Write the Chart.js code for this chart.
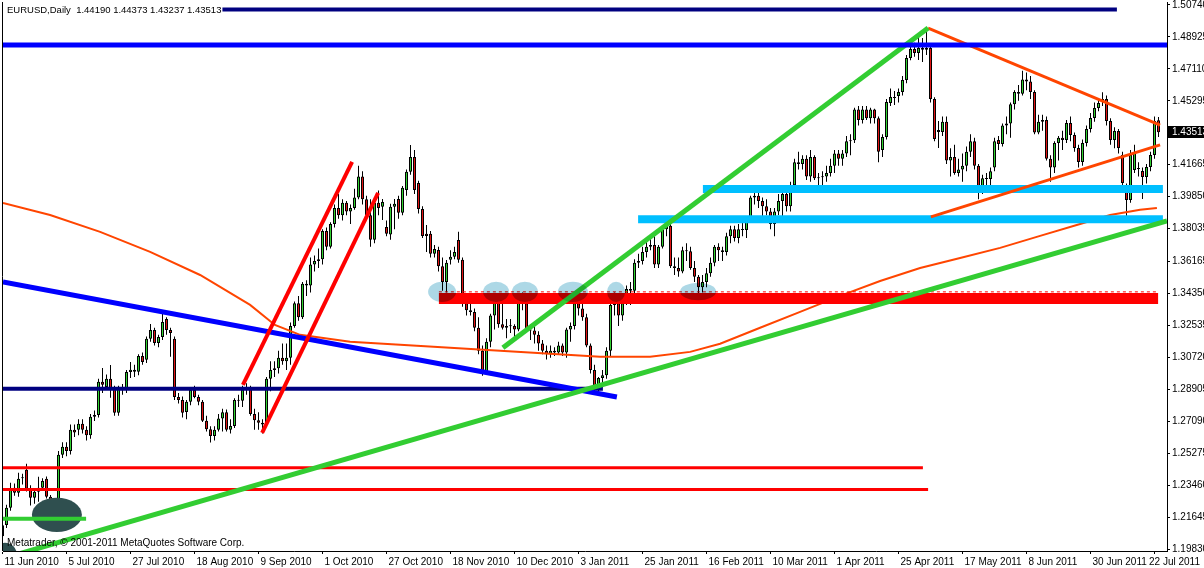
<!DOCTYPE html>
<html>
<head>
<meta charset="utf-8">
<script src="https://cdn.jsdelivr.net/npm/chart.js@4.4.1/dist/chart.umd.min.js"></script>
<style>
html,body{margin:0;padding:0;background:#ffffff;overflow:hidden;}
#wrap{width:1204px;height:568px;position:relative;}
canvas{display:block;}
</style>
</head>
<body>
<div id="wrap"><canvas id="c" width="1204" height="568"></canvas></div>
<script>
// ---------------- DATA ----------------
const dateLabels = ['11 Jun 2010','5 Jul 2010','27 Jul 2010','18 Aug 2010','9 Sep 2010','1 Oct 2010','27 Oct 2010','18 Nov 2010','10 Dec 2010','3 Jan 2011','25 Jan 2011','16 Feb 2011','10 Mar 2011','1 Apr 2011','25 Apr 2011','17 May 2011','8 Jun 2011','30 Jun 2011','22 Jul 2011'];
const barsPerLabel = 16;
const yTickValues = [1.50740,1.48925,1.47110,1.45295,1.41665,1.39850,1.38035,1.36165,1.34350,1.32535,1.30720,1.28905,1.27090,1.25275,1.23460,1.21645,1.19830];
const titleText = 'EURUSD,Daily  1.44190 1.44373 1.43237 1.43513';
const copyrightText = 'Metatrader, \u00A9 2001-2011 MetaQuotes Software Corp.';

const opens = [
1.2055,1.2120,1.2217,1.2331,1.2302,1.2385,1.2433,1.2325,1.2274,1.2308,
1.2331,1.2382,1.2280,1.2194,1.2220,1.2518,1.2564,1.2540,1.2660,1.2660,
1.2694,1.2660,1.2630,1.2734,1.2745,1.2933,1.2904,1.2950,1.2893,1.2757,
1.2893,1.2887,1.2989,1.3001,1.2990,1.3080,1.3058,1.3177,1.3228,1.3154,
1.3188,1.3290,1.3228,1.3177,1.2847,1.2830,1.2762,1.2819,1.2887,1.2847,
1.2819,1.2712,1.2664,1.2625,1.2660,1.2725,1.2760,1.2660,1.2682,1.2830,
1.2825,1.2890,1.2900,1.2750,1.2715,1.2700,1.2690,1.2950,1.3000,1.3010,
1.3070,1.3050,1.3070,1.3250,1.3380,1.3300,1.3490,1.3480,1.3600,1.3620,
1.3630,1.3790,1.3700,1.3830,1.3920,1.3880,1.3950,1.3900,1.3920,1.3980,
1.4100,1.3970,1.3880,1.3740,1.3950,1.3927,1.3813,1.3770,1.3927,1.3972,
1.3893,1.4023,1.4126,1.4211,1.4063,1.3915,1.3774,1.3774,1.3660,1.3682,
1.3590,1.3500,1.3626,1.3643,1.3739,1.3626,1.3380,1.3340,1.3330,1.3240,
1.3110,1.2990,1.3160,1.3310,1.3400,1.3260,1.3240,1.3250,1.3250,1.3230,
1.3390,1.3380,1.3230,1.3225,1.3200,1.3150,1.3110,1.3090,1.3110,1.3100,
1.3140,1.3100,1.3230,1.3250,1.3380,1.3350,1.3300,1.3140,1.3000,1.2910,
1.2955,1.2970,1.3110,1.3370,1.3380,1.3310,1.3380,1.3460,1.3450,1.3610,
1.3620,1.3670,1.3700,1.3710,1.3600,1.3700,1.3800,1.3820,1.3590,1.3580,
1.3560,1.3680,1.3675,1.3580,1.3530,1.3470,1.3500,1.3550,1.3610,1.3700,
1.3680,1.3670,1.3760,1.3800,1.3750,1.3800,1.3795,1.3860,1.3980,1.3990,
1.3960,1.3930,1.3900,1.3830,1.3900,1.3960,1.4000,1.3930,1.4050,1.4180,
1.4170,1.4200,1.4100,1.4210,1.4090,1.4095,1.4100,1.4120,1.4160,1.4230,
1.4200,1.4230,1.4300,1.4305,1.4480,1.4420,1.4480,1.4430,1.4480,1.4430,
1.4250,1.4324,1.4517,1.4551,1.4557,1.4580,1.4648,1.4773,1.4824,1.4801,
1.4830,1.4820,1.4830,1.4540,1.4353,1.4353,1.4410,1.4190,1.4210,1.4120,
1.4140,1.4160,1.4240,1.4300,1.4160,1.4020,1.4090,1.4085,1.4150,1.4307,
1.4284,1.4390,1.4400,1.4510,1.4580,1.4570,1.4650,1.4640,1.4580,1.4350,
1.4410,1.4420,1.4200,1.4150,1.4290,1.4320,1.4307,1.4404,1.4335,1.4262,
1.4182,1.4290,1.4370,1.4432,1.4489,1.4523,1.4540,1.4415,1.4307,1.4358,
1.4222,1.4040,1.3966,1.4137,1.4148,1.4131,1.4097,1.4154,1.4222,1.44190
];
const highs = [
1.2140,1.2235,1.2359,1.2355,1.2416,1.2410,1.2467,1.2345,1.2315,1.2393,
1.2385,1.2395,1.2290,1.2250,1.2540,1.2590,1.2590,1.2690,1.2690,1.2720,
1.2720,1.2680,1.2750,1.2770,1.2950,1.3012,1.2975,1.3029,1.2910,1.2910,
1.2920,1.3000,1.3046,1.3030,1.3090,1.3100,1.3190,1.3262,1.3240,1.3200,
1.3333,1.3300,1.3240,1.3190,1.2870,1.2850,1.2830,1.2900,1.2910,1.2860,
1.2830,1.2740,1.2680,1.2680,1.2750,1.2780,1.2775,1.2720,1.2840,1.2860,
1.2910,1.2925,1.2910,1.2780,1.2760,1.2720,1.2960,1.3050,1.3050,1.3110,
1.3150,1.3150,1.3270,1.3390,1.3420,1.3500,1.3510,1.3640,1.3650,1.3690,
1.3800,1.3810,1.3840,1.3940,1.4000,1.3970,1.3960,1.3940,1.4030,1.4160,
1.4130,1.3990,1.3970,1.3980,1.4020,1.3972,1.3850,1.3945,1.3972,1.3990,
1.4045,1.4140,1.4279,1.4250,1.4075,1.3930,1.3824,1.3790,1.3710,1.3700,
1.3640,1.3625,1.3680,1.3700,1.3785,1.3640,1.3420,1.3380,1.3350,1.3300,
1.3140,1.3180,1.3320,1.3430,1.3420,1.3390,1.3290,1.3290,1.3260,1.3410,
1.3440,1.3390,1.3260,1.3250,1.3220,1.3170,1.3140,1.3140,1.3130,1.3160,
1.3150,1.3240,1.3270,1.3400,1.3440,1.3390,1.3320,1.3150,1.3030,1.2960,
1.3000,1.3130,1.3380,1.3440,1.3390,1.3420,1.3480,1.3500,1.3630,1.3660,
1.3700,1.3740,1.3760,1.3760,1.3710,1.3820,1.3860,1.3830,1.3640,1.3640,
1.3700,1.3720,1.3700,1.3620,1.3540,1.3540,1.3580,1.3640,1.3710,1.3720,
1.3700,1.3780,1.3820,1.3820,1.3830,1.3860,1.3870,1.3990,1.4030,1.4030,
1.3980,1.3970,1.3920,1.3920,1.4000,1.4020,1.4010,1.4070,1.4200,1.4240,
1.4220,1.4220,1.4250,1.4220,1.4120,1.4130,1.4160,1.4200,1.4250,1.4250,
1.4250,1.4330,1.4340,1.4490,1.4500,1.4500,1.4500,1.4490,1.4485,1.4440,
1.4340,1.4540,1.4600,1.4585,1.4600,1.4670,1.4790,1.4880,1.4860,1.4892,
1.4887,1.4940,1.4850,1.4550,1.4415,1.4440,1.4440,1.4260,1.4280,1.4200,
1.4230,1.4270,1.4340,1.4320,1.4170,1.4110,1.4120,1.4150,1.4320,1.4330,
1.4400,1.4440,1.4520,1.4590,1.4620,1.4700,1.4690,1.4670,1.4590,1.4450,
1.4450,1.4440,1.4220,1.4300,1.4330,1.4360,1.4420,1.4440,1.4350,1.4280,
1.4310,1.4390,1.4460,1.4520,1.4540,1.4578,1.4560,1.4430,1.4380,1.4370,
1.4240,1.4060,1.4250,1.4280,1.4180,1.4150,1.4170,1.4240,1.4440,1.44373
];
const lows = [
1.2040,1.2103,1.2200,1.2285,1.2280,1.2350,1.2310,1.2230,1.2240,1.2251,
1.2320,1.2270,1.2160,1.2150,1.2210,1.2500,1.2510,1.2520,1.2620,1.2630,
1.2640,1.2600,1.2610,1.2710,1.2730,1.2870,1.2890,1.2842,1.2740,1.2740,
1.2860,1.2870,1.2955,1.2960,1.2970,1.3030,1.3040,1.3160,1.3140,1.3130,
1.3170,1.3200,1.3075,1.2830,1.2810,1.2730,1.2720,1.2800,1.2840,1.2800,
1.2705,1.2650,1.2588,1.2600,1.2650,1.2650,1.2650,1.2640,1.2670,1.2790,
1.2790,1.2860,1.2740,1.2660,1.2660,1.2640,1.2690,1.2880,1.2960,1.2980,
1.3030,1.3000,1.3030,1.3240,1.3280,1.3290,1.3420,1.3440,1.3560,1.3580,
1.3600,1.3680,1.3690,1.3810,1.3860,1.3850,1.3880,1.3830,1.3910,1.3970,
1.3940,1.3860,1.3700,1.3720,1.3880,1.3853,1.3760,1.3740,1.3800,1.3860,
1.3880,1.3990,1.4110,1.4000,1.3890,1.3750,1.3671,1.3640,1.3640,1.3560,
1.3450,1.3440,1.3600,1.3630,1.3610,1.3360,1.3310,1.3310,1.3220,1.3090,
1.2968,1.2990,1.3130,1.3230,1.3240,1.3230,1.3180,1.3210,1.3180,1.3220,
1.3340,1.3220,1.3170,1.3150,1.3110,1.3090,1.3060,1.3070,1.3080,1.3090,
1.3080,1.3070,1.3160,1.3230,1.3310,1.3280,1.3130,1.2980,1.2880,1.2860,
1.2900,1.2950,1.3080,1.3310,1.3250,1.3280,1.3370,1.3370,1.3430,1.3580,
1.3600,1.3640,1.3680,1.3580,1.3580,1.3690,1.3760,1.3580,1.3540,1.3530,
1.3550,1.3620,1.3570,1.3500,1.3430,1.3440,1.3470,1.3530,1.3590,1.3620,
1.3620,1.3650,1.3720,1.3730,1.3720,1.3760,1.3750,1.3850,1.3940,1.3920,
1.3860,1.3880,1.3800,1.3760,1.3880,1.3860,1.3900,1.3900,1.4030,1.4140,
1.4140,1.4080,1.4070,1.4080,1.4050,1.4050,1.4070,1.4100,1.4120,1.4160,
1.4160,1.4210,1.4220,1.4290,1.4390,1.4400,1.4420,1.4400,1.4400,1.4180,
1.4210,1.4310,1.4500,1.4506,1.4520,1.4560,1.4630,1.4760,1.4780,1.4762,
1.4750,1.4790,1.4520,1.4300,1.4262,1.4330,1.4170,1.4100,1.4110,1.4100,
1.4070,1.4130,1.4210,1.4140,1.3970,1.4000,1.4010,1.4050,1.4130,1.4250,
1.4270,1.4340,1.4320,1.4480,1.4530,1.4560,1.4590,1.4540,1.4340,1.4340,
1.4360,1.4190,1.4070,1.4120,1.4190,1.4250,1.4290,1.4300,1.4240,1.4150,
1.4160,1.4270,1.4350,1.4410,1.4470,1.4500,1.4390,1.4280,1.4260,1.4230,
1.4040,1.3836,1.3950,1.4120,1.4100,1.3972,1.4060,1.4130,1.4200,1.43237
];
const closes = [
1.2118,1.2217,1.2319,1.2302,1.2382,1.2390,1.2325,1.2274,1.2308,1.2331,
1.2370,1.2280,1.2194,1.2234,1.2518,1.2564,1.2540,1.2660,1.2645,1.2694,
1.2660,1.2630,1.2734,1.2745,1.2933,1.2916,1.2950,1.2893,1.2757,1.2893,
1.2904,1.2989,1.3001,1.2990,1.3080,1.3046,1.3177,1.3228,1.3154,1.3188,
1.3273,1.3228,1.3211,1.2847,1.2830,1.2757,1.2819,1.2887,1.2847,1.2819,
1.2712,1.2664,1.2625,1.2660,1.2725,1.2760,1.2660,1.2682,1.2830,1.2825,
1.2890,1.2900,1.2750,1.2715,1.2700,1.2690,1.2950,1.3000,1.3010,1.3070,
1.3050,1.3070,1.3250,1.3380,1.3300,1.3490,1.3480,1.3600,1.3620,1.3630,
1.3790,1.3700,1.3830,1.3920,1.3880,1.3950,1.3900,1.3920,1.3980,1.4100,
1.3970,1.3880,1.3740,1.3950,1.3920,1.3955,1.3774,1.3927,1.3944,1.3893,
1.4035,1.4126,1.4211,1.4023,1.3915,1.3762,1.3762,1.3660,1.3688,1.3590,
1.3500,1.3610,1.3643,1.3671,1.3626,1.3380,1.3340,1.3330,1.3240,1.3110,
1.2990,1.3160,1.3310,1.3400,1.3260,1.3240,1.3250,1.3248,1.3230,1.3390,
1.3380,1.3230,1.3225,1.3200,1.3150,1.3110,1.3090,1.3110,1.3100,1.3140,
1.3100,1.3230,1.3250,1.3380,1.3350,1.3300,1.3140,1.3000,1.2910,1.2955,
1.2970,1.3110,1.3370,1.3380,1.3310,1.3380,1.3460,1.3450,1.3610,1.3620,
1.3670,1.3700,1.3710,1.3600,1.3700,1.3800,1.3820,1.3590,1.3580,1.3560,
1.3680,1.3675,1.3580,1.3530,1.3470,1.3500,1.3550,1.3610,1.3700,1.3680,
1.3670,1.3760,1.3800,1.3750,1.3800,1.3795,1.3860,1.3980,1.3990,1.3960,
1.3930,1.3900,1.3830,1.3900,1.3960,1.4000,1.3930,1.4050,1.4180,1.4170,
1.4200,1.4100,1.4210,1.4090,1.4095,1.4100,1.4120,1.4160,1.4230,1.4200,
1.4230,1.4300,1.4305,1.4480,1.4420,1.4480,1.4430,1.4480,1.4430,1.4240,
1.4324,1.4523,1.4551,1.4546,1.4580,1.4648,1.4773,1.4824,1.4801,1.4830,
1.4820,1.4830,1.4540,1.4313,1.4364,1.4410,1.4190,1.4210,1.4120,1.4140,
1.4160,1.4240,1.4300,1.4160,1.4020,1.4090,1.4085,1.4130,1.4300,1.4284,
1.4390,1.4400,1.4510,1.4580,1.4570,1.4650,1.4640,1.4580,1.4350,1.4410,
1.4420,1.4200,1.4150,1.4290,1.4320,1.4307,1.4404,1.4335,1.4262,1.4182,
1.4290,1.4370,1.4432,1.4489,1.4517,1.4540,1.4415,1.4307,1.4358,1.4262,
1.4063,1.3966,1.4222,1.4233,1.4142,1.4097,1.4154,1.4222,1.4415,1.43513
];

// moving average: bar index / value
const maBars   = [0.125,11.9,24.4,36.9,49.4,61.9,68.1,74.4,86.9,99.4,111.9,124.4,136.9,149.4,161.9,171.9,179.4,189.4,199.4,209.4,219.4,229.4,239.4,249.4,259.4,269.4,276.9,284.4,288.6];
const maValues = [1.3949,1.3881,1.3785,1.3671,1.3540,1.3370,1.3256,1.3200,1.3160,1.3143,1.3126,1.3109,1.3092,1.3075,1.3075,1.3103,1.3149,1.3240,1.3330,1.3421,1.3506,1.3580,1.3637,1.3694,1.3762,1.3830,1.3881,1.3910,1.3921];

// drawn objects: [bar index, price] end points
const navyTopLine      = [[0.125,1.5048],[278.6,1.5048]];
const blueLevelLine    = [[0.125,1.4847],[291.125,1.4847]];
const blueTrendLine    = [[0.125,1.3501],[153.6,1.2847]];
const navyLevelLine    = [[0.125,1.2893],[150.1,1.2893]];
const redLevelUpper    = [[0.125,1.2444],[230.1,1.2444]];
const redLevelLower    = [[0.125,1.2321],[231.4,1.2321]];
const greenBaseLine    = [[0.125,1.2155],[20.9,1.2155]];
const greenSupportLine = [[0.125,1.1929],[291.125,1.3847]];
const greenRallyLine   = [[125.1,1.3126],[231.4,1.4943]];
const orangeUpperLine  = [[231.4,1.4943],[289.4,1.4392]];
const orangeLowerLine  = [[232.1,1.3870],[289.4,1.4279]];
const cyanUpperZone    = [[175.1,1.4029],[290.1,1.4029]];
const cyanLowerZone    = [[158.9,1.3856],[290.1,1.3856]];
const redZone          = [[109.1,1.3407],[288.9,1.3407]];
const redZoneEdge      = [[109.1,1.3444],[288.9,1.3444]];
const channelLineA     = [[60.1,1.2916],[87.4,1.4182]];
const channelLineB     = [[64.9,1.2643],[93.9,1.4006]];
// ellipses: [centre bar, centre price, half-width in bars, half-height in price]
const touchZones = [[109.9,1.3444,3.5,0.0057],[123.4,1.3444,3.25,0.0057],[130.6,1.3444,3.25,0.0057],[142.6,1.3444,3.75,0.0057],[153.4,1.3444,2.25,0.0057],[173.9,1.3446,4.5,0.0050]];
const darkZones  = [[13.6,1.2177,6.25,0.0097],[0.6,1.1950,3,0.0068]];

// ---------------- CHART ----------------
const FONT = 'Liberation Sans';
const wickData = lows.map((l,i)=>({x:i, y:[l, highs[i]]}));
const bodyData = opens.map((o,i)=>({x:i, y:[Math.min(o,closes[i]), Math.max(o,closes[i])]}));
const bodyColors = opens.map((o,i)=> closes[i] >= o ? '#32D232' : '#E01414');

function lineDs(pts, color, width, order, extra){
  return Object.assign({
    type:'line',
    data: pts.map(p=>({x:p[0], y:p[1]})),
    borderColor: color, borderWidth: width,
    pointRadius: 0, pointHoverRadius: 0, tension: 0, fill: false,
    borderCapStyle: 'butt', order: order, clip: 0
  }, extra || {});
}

const BODY_ORDER = 100;
const datasets = [
  {type:'bar', label:'bodies', data: bodyData, backgroundColor: bodyColors, borderColor:'#000000', borderWidth:1,
   borderSkipped:false, barThickness:3, grouped:false, minBarLength:1, inflateAmount:0, order:BODY_ORDER, clip:0},
  {type:'bar', label:'wicks', data: wickData, backgroundColor:'#000000', borderWidth:0,
   barThickness:1, grouped:false, inflateAmount:0, order:BODY_ORDER+1, clip:0},
  lineDs(maBars.map((b,i)=>[b, maValues[i]]), '#FF4500', 2, 30),
  lineDs(navyLevelLine, '#000080', 4, 20),
  lineDs(blueTrendLine, '#0000FF', 5, 19),
  lineDs(redLevelUpper, '#FF0000', 3, 18),
  lineDs(redLevelLower, '#FF0000', 3, 18),
  lineDs(cyanLowerZone, '#00BFFF', 8, 17),
  lineDs(cyanUpperZone, '#00BFFF', 8, 17),
  lineDs(redZone, '#FF0000', 11, 16),
  lineDs(redZoneEdge, '#FF0000', 1, 16, {borderDash:[3,3]}),
  lineDs(channelLineA, '#FF0000', 4, 15),
  lineDs(channelLineB, '#FF0000', 4, 15),
  lineDs(orangeUpperLine, '#FF4500', 3, 14),
  lineDs(orangeLowerLine, '#FF4500', 3, 14),
  lineDs(greenSupportLine, '#32CD32', 5, 13),
  lineDs(greenRallyLine, '#32CD32', 5, 12),
  lineDs(greenBaseLine, '#32CD32', 4, 11),
  lineDs(blueLevelLine, '#0000FF', 5, 10),
  lineDs(navyTopLine, '#000080', 4, 9)
];

function ellipse(ctx, xs, ys, z){
  const cx = xs.getPixelForValue(z[0]);
  const cy = ys.getPixelForValue(z[1]);
  const rx = Math.abs(xs.getPixelForValue(z[0]+z[2]) - cx);
  const ry = Math.abs(ys.getPixelForValue(z[1]+z[3]) - cy);
  ctx.beginPath();
  ctx.ellipse(cx, cy, rx, ry, 0, 0, Math.PI*2);
  ctx.fill();
}

const overlayPlugin = {
  id: 'mtOverlay',
  afterDatasetDraw(chart, args){
    if (args.meta.order !== BODY_ORDER || args.meta.type !== 'bar') return;
    const {ctx, chartArea:a, scales:{x, y}} = chart;
    ctx.save();
    ctx.beginPath(); ctx.rect(a.left, a.top, a.right-a.left, a.bottom-a.top); ctx.clip();
    ctx.fillStyle = '#2F4F4F';
    darkZones.forEach(z=>ellipse(ctx, x, y, z));
    ctx.restore();
  },
  afterDatasetsDraw(chart){
    const {ctx, chartArea:a, scales:{x, y}} = chart;
    // light-blue touch zones (blended)
    ctx.save();
    ctx.beginPath(); ctx.rect(a.left, a.top, a.right-a.left, a.bottom-a.top); ctx.clip();
    ctx.globalCompositeOperation = 'multiply';
    ctx.fillStyle = '#ADD8E6';
    touchZones.forEach(z=>ellipse(ctx, x, y, z));
    ctx.restore();

    ctx.save();
    // left border
    ctx.strokeStyle = '#000'; ctx.lineWidth = 1;
    ctx.beginPath(); ctx.moveTo(a.left-0.5, a.top); ctx.lineTo(a.left-0.5, a.bottom); ctx.stroke();

    // title
    ctx.font = '9.5px "' + FONT + '"';
    ctx.textBaseline = 'alphabetic';
    const tw = ctx.measureText(titleText).width;
    ctx.fillStyle = '#fff';
    ctx.fillRect(a.left, 3, tw + 5, 12);
    ctx.fillStyle = '#000';
    ctx.fillText(titleText, a.left + 4, 13);

    ctx.font = '10px "' + FONT + '"';
    // copyright
    ctx.fillText(copyrightText, a.left + 4, 546);

    // date labels
    const W = chart.width;
    dateLabels.forEach((lab, k)=>{
      const px = x.getPixelForValue(k*barsPerLabel) + 2;
      const w = ctx.measureText(lab).width;
      const tx = Math.min(px, W - w - 4);
      ctx.fillText(lab, tx, 565);
    });

    // current price box
    const last = closes[closes.length-1];
    const py = Math.round(y.getPixelForValue(last));
    ctx.fillStyle = '#000';
    ctx.fillRect(a.right + 1, py - 6, W - a.right - 1, 12);
    ctx.fillStyle = '#fff';
    ctx.textBaseline = 'middle';
    ctx.fillText(last.toFixed(5), a.right + 5, py + 0.5);
    ctx.restore();
  }
};

new Chart(document.getElementById('c'), {
  type: 'bar',
  data: { datasets },
  options: {
    responsive: false,
    devicePixelRatio: 1,
    animation: false,
    events: [],
    layout: { padding: { left: 3, top: 2, right: 0, bottom: 0 } },
    plugins: { legend: { display: false }, tooltip: { enabled: false } },
    scales: {
      x: {
        type: 'linear', position: 'bottom',
        min: 0.125, max: 291.125, offset: false,
        afterBuildTicks: (s) => { s.ticks = dateLabels.map((_, k) => ({ value: k * barsPerLabel })); },
        afterFit: (s) => { s.height = 17; s.paddingLeft = 0; s.paddingRight = 0; },
        grid: { display: true, offset: false, drawOnChartArea: false, drawTicks: true, tickLength: 3, color: '#000', tickColor: '#000' },
        border: { display: true, color: '#000', width: 1 },
        ticks: { display: false, autoSkip: false }
      },
      y: {
        type: 'linear', position: 'right',
        min: 1.19717, max: 1.50910,
        afterBuildTicks: (s) => { s.ticks = yTickValues.map(v => ({ value: v })); },
        afterFit: (s) => { s.width = 37; s.paddingTop = 0; s.paddingBottom = 0; },
        grid: { display: true, drawOnChartArea: false, drawTicks: true, tickLength: 3, color: '#000', tickColor: '#000' },
        border: { display: true, color: '#000', width: 1 },
        ticks: {
          autoSkip: false, padding: 2, color: '#000',
          font: { family: FONT, size: 10 },
          callback: (v) => Number(v).toFixed(5)
        }
      }
    }
  },
  plugins: [overlayPlugin]
});
</script>
</body>
</html>
